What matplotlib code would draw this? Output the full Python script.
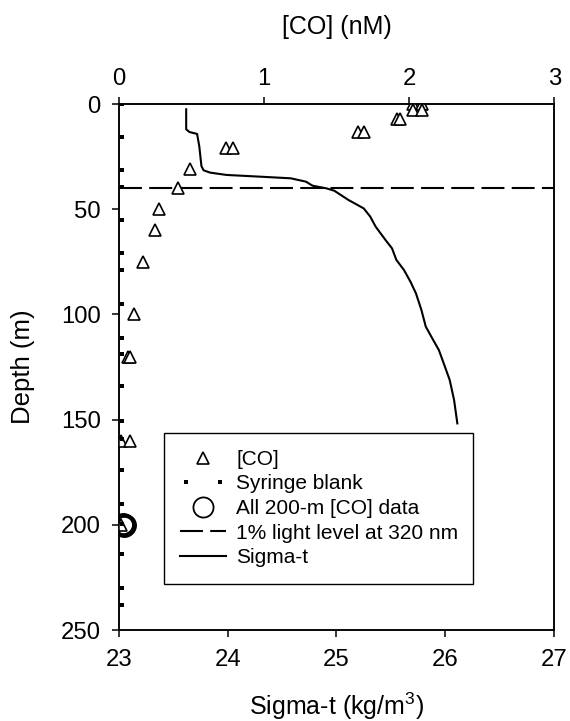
import matplotlib
matplotlib.use("Agg")
import matplotlib.pyplot as plt
from matplotlib.legend_handler import HandlerLine2D

plt.rcParams['font.family'] = ['Liberation Sans', 'DejaVu Sans']
plt.rcParams['mathtext.fontset'] = 'custom'
plt.rcParams['mathtext.rm'] = 'Liberation Sans'
plt.rcParams['mathtext.it'] = 'Liberation Sans'
plt.rcParams['mathtext.default'] = 'regular'

# [CO] profile (nM vs depth m)
co_depth = [0, 0, 3, 3, 7, 7, 13.5, 13.5, 21, 21, 31, 40, 50, 60, 75, 100, 120, 120, 160, 160, 200]
co_conc = [2.03, 2.09, 2.03, 2.09, 1.92, 1.94, 1.65, 1.69, 0.74, 0.79, 0.49, 0.41, 0.28, 0.25,
           0.165, 0.105, 0.065, 0.075, 0.018, 0.076, 0.018]

# syringe blanks
blank_depth = [0, 15.5, 31.5, 39.5, 55, 71, 79, 95, 111, 119, 134, 150.5, 159, 174, 190,
               199.5, 214, 230, 238]
blank_conc = [0.025] * len(blank_depth)

# 200 m samples
deep_depth = [199.5, 200, 200.5, 200]
deep_conc = [0.028, 0.033, 0.038, 0.043]

# sigma-t profile
sig_depth = [2.5, 12, 13.3, 14.2, 20, 29.5, 31.5, 32.6, 33.7, 34.5, 35.3, 36.9, 38.8, 40.1,
             41.2, 45.6, 49.6, 53.5, 58.3, 64.6, 68.6, 74.1, 78.9, 84.5, 90, 97.9, 105.8,
             111.4, 116.9, 124, 131.2, 140.7, 151.8]
sig_t = [23.62, 23.62, 23.65, 23.72, 23.74, 23.76, 23.78, 23.84, 23.99, 24.29, 24.58, 24.72,
         24.78, 24.91, 24.98, 25.11, 25.25, 25.31, 25.36, 25.45, 25.51, 25.55, 25.62, 25.68,
         25.73, 25.78, 25.82, 25.88, 25.94, 25.99, 26.04, 26.08, 26.11]

light_depth = 40

fig = plt.figure(figsize=(5.7, 7.21), dpi=100)
ax = fig.add_axes([0.2082, 0.1262, 0.7642, 0.7295])
ax2 = ax.twiny()

sig_line, = ax.plot(sig_t, sig_depth, color='black', lw=1.5)
dash_line = ax.axhline(light_depth, color='black', lw=1.5, dashes=(11, 3.5))

co_pts, = ax2.plot(co_conc, co_depth, ls='none', marker='^', ms=9, mfc='white',
                   mec='black', mew=1.2)
blank_pts, = ax2.plot(blank_conc, blank_depth, ls='none', marker='s', ms=2.2,
                      mfc='black', mec='black', mew=0)
deep_pts, = ax2.plot(deep_conc, deep_depth, ls='none', marker='o', ms=14.5, mfc='none',
                     mec='black', mew=2.0)

ax.set_xlim(23, 27)
ax.set_xticks([23, 24, 25, 26, 27])
ax2.set_xlim(0, 3)
ax2.set_xticks([0, 1, 2, 3])
ax.set_ylim(250, 0)
ax.set_yticks([0, 50, 100, 150, 200, 250])

for a in (ax, ax2):
    for s in a.spines.values():
        s.set_linewidth(1.1)
ax.tick_params(axis='both', which='both', direction='out', length=5, width=1.1,
               labelsize=17.2, right=False)
ax.tick_params(axis='x', pad=9)
ax.tick_params(axis='y', pad=8)
ax2.tick_params(axis='x', direction='out', length=5, width=1.1, labelsize=17.2, pad=5)

ax.set_xlabel('Sigma-t (kg/m$^3$)', fontsize=18)
ax.xaxis.set_label_coords(0.5, -0.145)
ax.xaxis.label.set_va('center')
ax.set_ylabel('Depth (m)', fontsize=18.5)
ax.yaxis.set_label_coords(-0.2197, 0.5)
ax.yaxis.label.set_va('center')
ax2.set_xlabel('[CO] (nM)', fontsize=18)
ax2.xaxis.set_label_coords(0.5, 1.1464)
ax2.xaxis.label.set_va('center')

leg = ax2.legend([co_pts, blank_pts, deep_pts, dash_line, sig_line],
                 ['[CO]', 'Syringe blank', 'All 200-m [CO] data',
                  '1% light level at 320 nm', 'Sigma-t'],
                 handler_map={blank_pts: HandlerLine2D(numpoints=2)},
                 loc='lower left', bbox_to_anchor=(0.103, 0.0875, 0.711, 0.2865),
                 mode='expand', borderaxespad=0, fontsize=15, numpoints=1,
                 handlelength=2.2, handletextpad=0.5, labelspacing=0.27,
                 borderpad=0.8, fancybox=False, framealpha=1, edgecolor='black')
leg.get_frame().set_linewidth(1.0)
leg.legend_handles[2].set_markeredgewidth(1.3)

fig.savefig('out.png', dpi=100)
